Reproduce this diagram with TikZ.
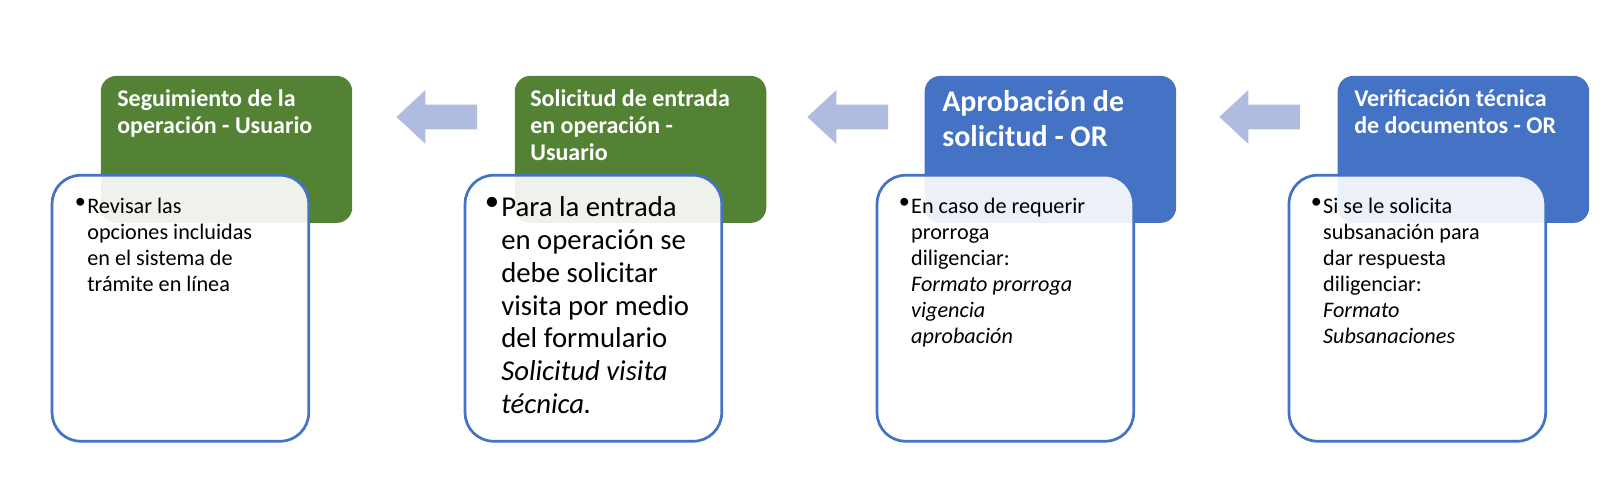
\documentclass[tikz,border=0pt]{standalone}
\usepackage{fontspec}
\setmainfont{Carlito}
\definecolor{hgreen}{HTML}{548235}
\definecolor{hblue}{HTML}{4472C4}
\definecolor{arrc}{HTML}{AFBCDF}
\begin{document}
\begin{tikzpicture}[x=0.02cm,y=-0.02cm,
  head/.style={rounded corners=0.3cm,minimum width=4.86cm,minimum height=2.84cm,anchor=north west,inner sep=0},
  body/.style={draw=hblue,line width=1.5pt,fill=white,fill opacity=0.9,rounded corners=0.55cm,minimum width=4.96cm,minimum height=5.14cm,anchor=north west,inner sep=0},
  htext/.style={anchor=north west,text=white,font=\bfseries,align=left,inner sep=0},
  btext/.style={anchor=north west,inner sep=0,align=left,font=\fontsize{12.2}{14.3}\selectfont},
  bigtext/.style={btext,font=\fontsize{15.8}{18}\selectfont},
  blockarrow/.style={fill=arrc}]
\useasboundingbox (0,0) rectangle (1568,480);
% headers
\node[head,fill=hgreen] (h1) at (97,73) {};
\node[head,fill=hgreen] (h2) at (497,73) {};
\node[head,fill=hblue] (h3) at (893,73) {};
\node[head,fill=hblue] (h4) at (1292,73) {};
\node[htext,font=\bfseries\fontsize{13.2}{15}\selectfont] (t1) at (113,86) {Seguimiento de la\\operación - Usuario};
\node[htext,font=\bfseries\fontsize{13.2}{15}\selectfont] (t2) at (512,86) {Solicitud de entrada\\en operación -\\Usuario};
\node[htext,font=\bfseries\fontsize{16.5}{19}\selectfont] (t3) at (910,87) {Aprobación de\\solicitud - OR};
\node[htext,font=\bfseries\fontsize{13.2}{15}\selectfont] (t4) at (1308,86) {Verificación técnica\\de documentos - OR};
% bodies
\node[body] (b1) at (49,168) {};
\node[body] (b2) at (448,168) {};
\node[body] (b3) at (846,168) {};
\node[body] (b4) at (1244,168) {};
\node[btext] (d1) at (72,191) {\textbullet};
\node[btext] (c1) at (84,191) {Revisar las\\opciones incluidas\\en el sistema de\\trámite en línea};
\node[bigtext] (d2) at (468,190) {\textbullet};
\node[bigtext] (c2) at (484,190) {Para la entrada\\en operación se\\debe solicitar\\visita por medio\\del formulario\\\textit{Solicitud visita}\\\textit{técnica.}};
\node[btext] (d3) at (868,191) {\textbullet};
\node[btext] (c3) at (880,191) {En caso de requerir\\prorroga\\diligenciar:\\\textit{Formato prorroga}\\\textit{vigencia}\\\textit{aprobación}};
\node[btext] (d4) at (1266,191) {\textbullet};
\node[btext] (c4) at (1278,191) {Si se le solicita\\subsanación para\\dar respuesta\\diligenciar:\\\textit{Formato}\\\textit{Subsanaciones}};
% arrows
\foreach \x in {383,780,1178}{
  \fill[blockarrow] (\x,113) -- (\x+28,87) -- (\x+28,101) -- (\x+78,101) -- (\x+78,125) -- (\x+28,125) -- (\x+28,139) -- cycle;
}
\end{tikzpicture}
\end{document}
